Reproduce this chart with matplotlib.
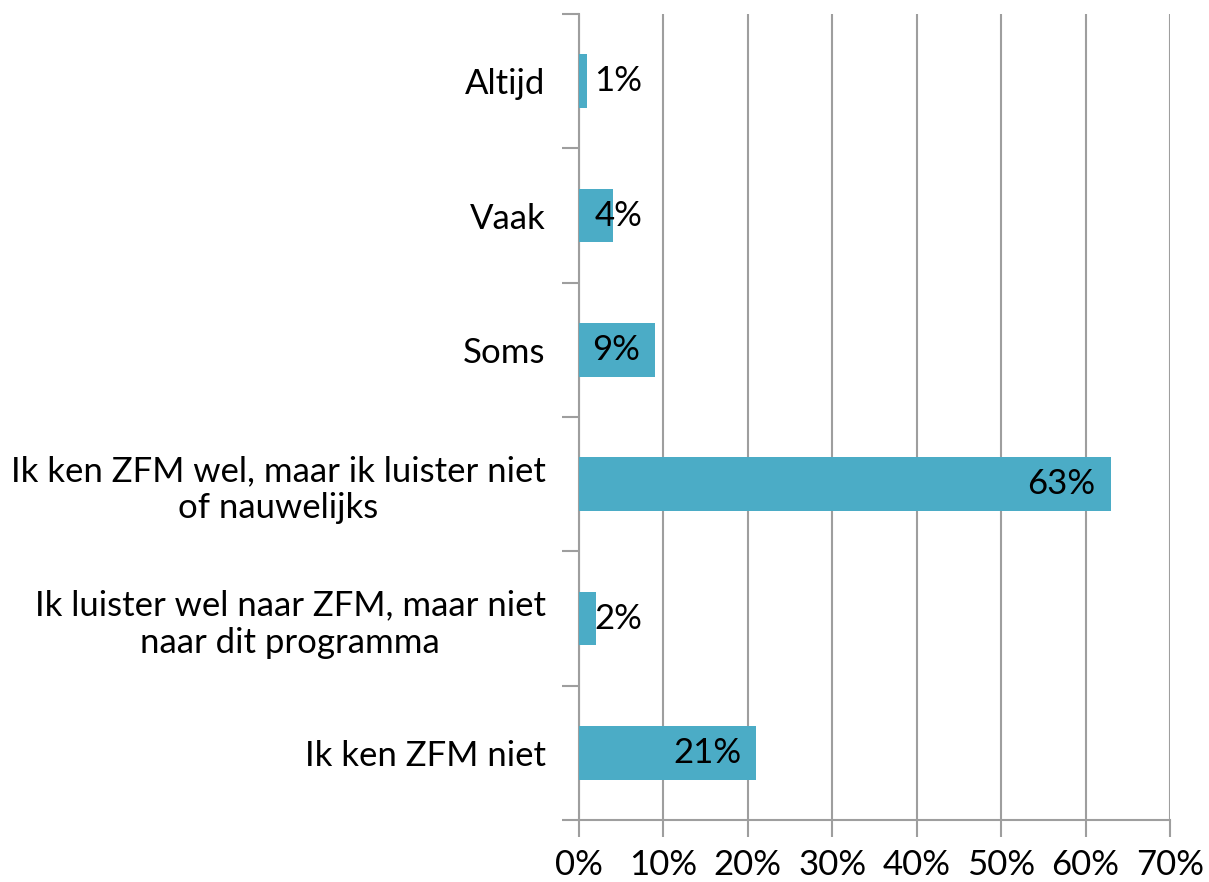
import matplotlib
matplotlib.use("Agg")
import matplotlib.pyplot as plt
from matplotlib.ticker import PercentFormatter, FixedLocator

categories = [
    "Altijd",
    "Vaak",
    "Soms",
    "Ik ken ZFM wel, maar ik luister niet\nof nauwelijks",
    "Ik luister wel naar ZFM, maar niet\nnaar dit programma",
    "Ik ken ZFM niet",
]
values = [1, 4, 9, 63, 2, 21]
x_ticks = [0, 10, 20, 30, 40, 50, 60, 70]

plt.rcParams['font.family'] = ['Lato', 'DejaVu Sans']

fig = plt.figure(figsize=(12.09, 8.82), dpi=100)
ax = fig.add_axes([0.4789, 0.0703, 0.4888, 0.9138])

grey = "#9E9E9E"
bar_color = "#4BACC6"
fs = 25
n = len(categories)
ypos = list(range(n))
ax.barh(ypos, values, height=0.4, color=bar_color, zorder=3)

ax.set_xlim(0, 70)
ax.set_ylim(n - 0.5, -0.5)
ax.xaxis.set_major_locator(FixedLocator(x_ticks))
ax.xaxis.set_major_formatter(PercentFormatter(decimals=0))
ax.set_yticks(ypos)
ax.set_yticklabels(categories, fontsize=fs, multialignment='center')
ax.yaxis.set_minor_locator(FixedLocator([i - 0.5 for i in range(n + 1)]))
ax.tick_params(axis='y', which='major', length=0, pad=24)
ax.tick_params(axis='y', which='minor', length=12, width=1.5, color=grey)
ax.tick_params(axis='x', which='major', length=12, width=1.5, color=grey, labelsize=fs, pad=9)

ax.grid(axis='x', color=grey, linewidth=1.5, zorder=0)
ax.set_axisbelow(True)
for s in ['top', 'right']:
    ax.spines[s].set_visible(False)
for s in ['left', 'bottom']:
    ax.spines[s].set_color(grey)
    ax.spines[s].set_linewidth(1.5)

for y, v in zip(ypos, values):
    if v < 9:
        ax.annotate(f"{v}%", xy=(0, y), xytext=(11, 0), textcoords='offset points',
                    ha='left', va='center', fontsize=fs, color='black', zorder=4)
    else:
        ax.annotate(f"{v}%", xy=(v, y), xytext=(-11, 0), textcoords='offset points',
                    ha='right', va='center', fontsize=fs, color='black', zorder=4)

fig.savefig("out.png", dpi=100)
